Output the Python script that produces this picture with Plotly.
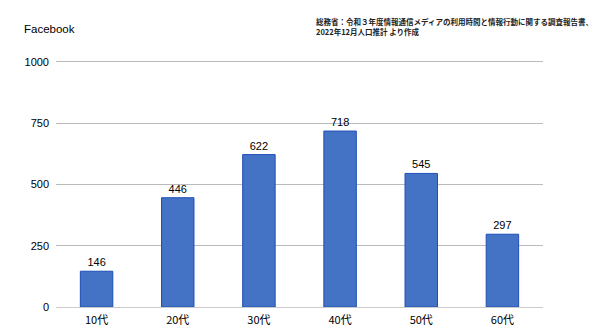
import plotly.graph_objects as go

categories = ["10代", "20代", "30代", "40代", "50代", "60代"]
values = [146, 446, 622, 718, 545, 297]
y_ticks = [0, 250, 500, 750, 1000]

L, R, T, B = 56, 57, 60, 29
PW, PH = 600 - L - R, 336 - T - B

def px(x):
    return (x - L) / PW

def py(y):
    return (336 - B - y) / PH

fig = go.Figure(go.Bar(
    x=categories, y=values,
    text=[str(v) for v in values], textposition="outside",
    textfont=dict(size=11, color="#000", family="Liberation Sans, sans-serif"),
    marker=dict(color="#4472C4", line=dict(color="#1F4FB8", width=1)),
    width=0.4, cliponaxis=False,
))
fig.update_layout(
    width=600, height=336,
    margin=dict(l=L, r=R, t=T, b=B),
    paper_bgcolor="white", plot_bgcolor="white",
    font=dict(family="Noto Sans CJK JP, Liberation Sans, sans-serif", size=11, color="#000"),
    showlegend=False,
    yaxis=dict(range=[0, 1008], tickvals=y_ticks, showgrid=True, gridcolor="#BBBBBB",
               gridwidth=1, zeroline=False, ticks="", ticklen=0, automargin=False,
               ticklabelstandoff=6,
               tickfont=dict(size=11, family="Liberation Sans, sans-serif")),
    xaxis=dict(showline=True, linecolor="#CCCCCC", ticks="outside", ticklen=3, automargin=False,
               tickcolor="rgba(0,0,0,0)", tickfont=dict(size=11)),
    annotations=[
        dict(text="Facebook", x=px(22), y=py(29), xref="paper", yref="paper", showarrow=False,
             xanchor="left", yanchor="middle", font=dict(size=11.5, family="Liberation Sans, sans-serif")),
        dict(text="<b>総務省：令和３年度情報通信メディアの利用時間と情報行動に関する調査報告書、<br>2022年12月人口推計 より作成</b>",
             x=px(314), y=py(27), xref="paper", yref="paper", showarrow=False,
             xanchor="left", yanchor="middle", align="left",
             font=dict(size=7.5, color="#222")),
    ],
)
fig.write_html("out.html")
